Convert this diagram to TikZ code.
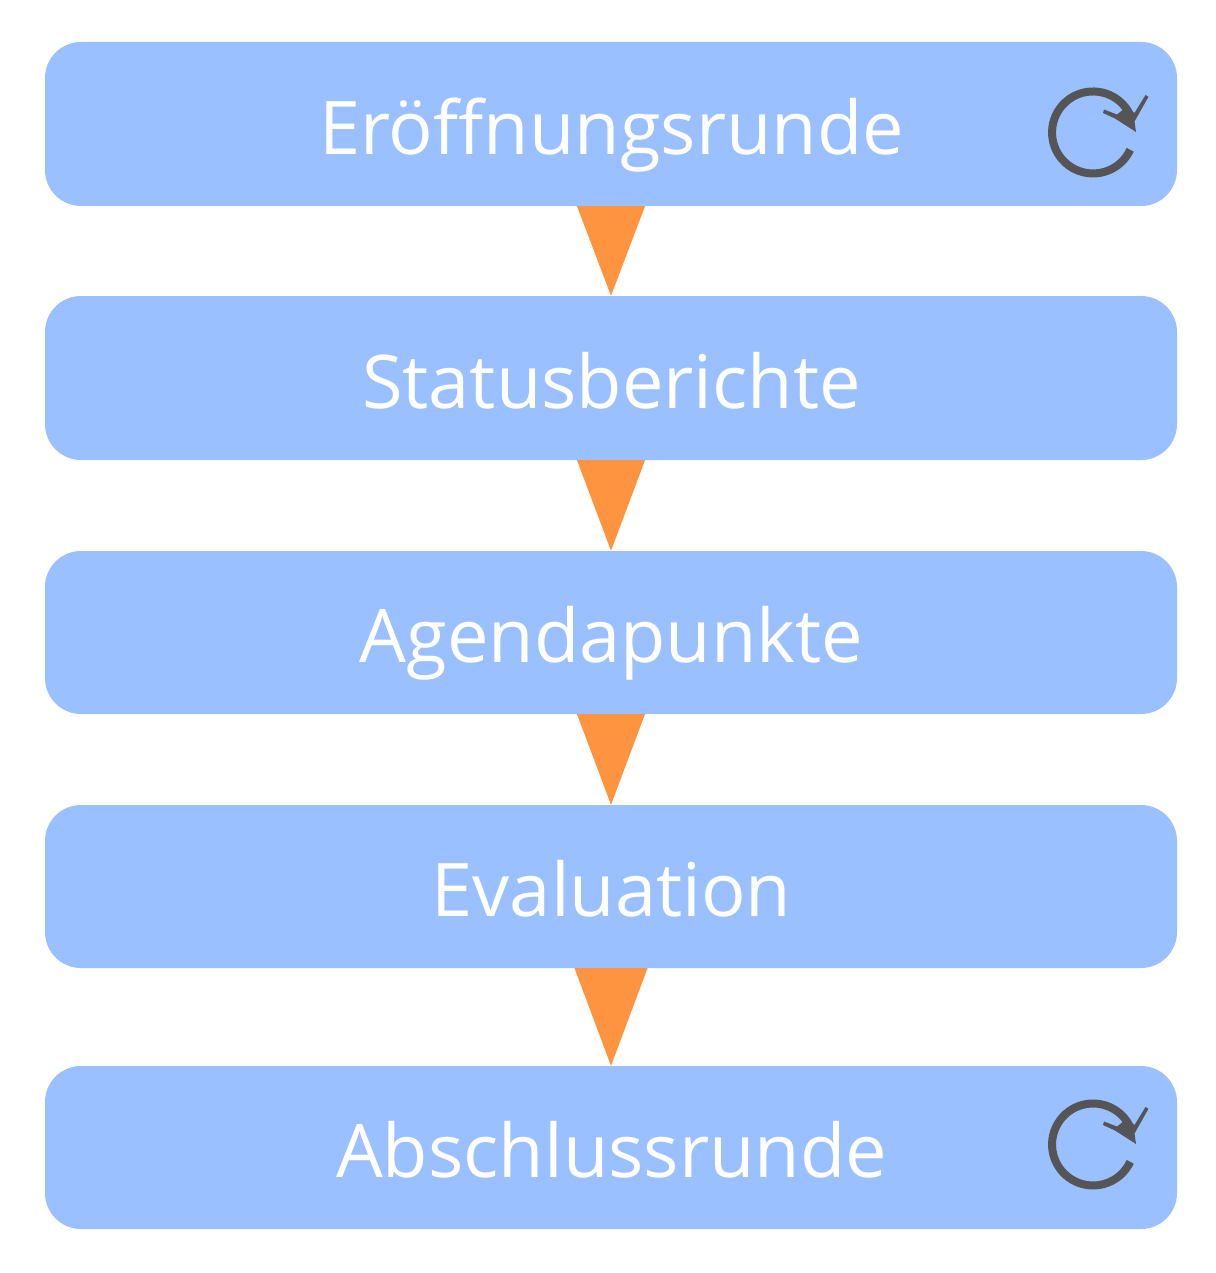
\documentclass[tikz,border=0pt]{standalone}
\usepackage{fontspec}
\setmainfont{Open Sans}
\definecolor{boxblue}{HTML}{9BC0FF}
\definecolor{arrorange}{HTML}{FF9440}
\definecolor{icongray}{HTML}{555555}
\tikzset{x=1pt,y=-1pt,
  stepbox/.style={draw=none,fill=boxblue,rounded corners=36pt,minimum width=1132pt,inner sep=0pt},
  steplabel/.style={text=white,font=\fontsize{74}{82}\selectfont,anchor=base,inner sep=0pt},
  conn/.style={fill=arrorange,draw=none},
  icon/.style={draw=icongray,line width=8pt,line cap=butt}}
\begin{document}
\begin{tikzpicture}
\useasboundingbox (0,0) rectangle (1215,1273);
\fill[white] (0,0) rectangle (1215,1273);
\foreach \n/\yy/\hh/\by/\lbl in {a/124/164/154.5/Eröffnungsrunde,b/378/164/408.5/Statusberichte,c/632.5/163/662/Agendapunkte,d/886.5/163/916/Evaluation,e/1147.5/163/1177/Abschlussrunde}{
  \node[stepbox,minimum height=\hh pt,anchor=center] (\n) at (611,\yy) {};
  \node[steplabel] (\n t) at (611.5,\by) {\lbl};
}
\foreach \p/\q in {a/b,b/c,c/d}{
  \fill[conn] ([xshift=-34pt]\p.south) -- ([xshift=34pt]\p.south) -- (\q.north) -- cycle;
}
\fill[conn] ([xshift=-36.5pt]d.south) -- ([xshift=36.5pt]d.south) -- (e.north) -- cycle;
\foreach \yc in {132.5,1144.5}{
 \begin{scope}[shift={(1093,\yc)}]
  \draw[icon] (37.2,17.3) arc[start angle=25,end angle=332,radius=41];
  \fill[icongray] (43,-0.5) -- (41.5,-11) -- (55.5,-35.8) -- (52.5,-37.5) -- (41.5,-19.5) -- (34,-26) -- (24,-18) -- (11,-23) -- (10,-19.5) -- (22,-14) -- cycle;
 \end{scope}
}
\end{tikzpicture}
\end{document}
